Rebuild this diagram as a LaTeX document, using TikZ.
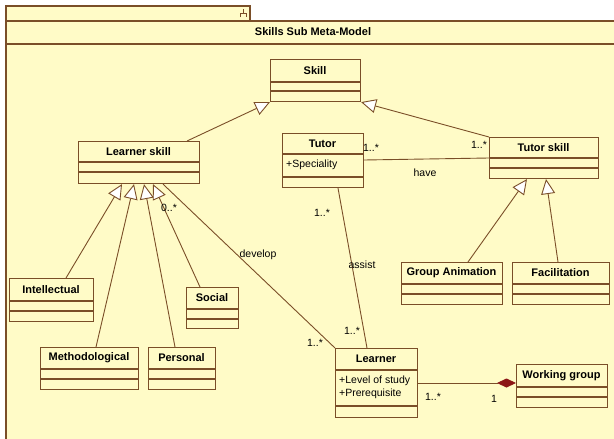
\documentclass[tikz,border=0pt]{standalone}
\usepackage{fontspec}
\setmainfont{Liberation Sans}
\usetikzlibrary{arrows.meta}

\definecolor{umlfill}{RGB}{255,251,199}
\definecolor{umlline}{RGB}{122,78,40}
\definecolor{umldiamond}{RGB}{140,22,22}

\tikzset{
  classbox/.style={draw=umlline, line width=1.1pt, fill=umlfill, inner sep=0pt, anchor=north west},
  classname/.style={font=\fontsize{11}{13}\selectfont\bfseries, text=black, inner sep=0pt},
  attr/.style={font=\fontsize{10.5}{12}\selectfont, anchor=west, inner sep=0pt},
  lbl/.style={font=\fontsize{10.5}{12}\selectfont, inner sep=0pt},
  sepline/.style={draw=umlline, line width=1.1pt},
  conn/.style={draw=umlline, line width=0.9pt},
  gen/.style={conn, -{Triangle[length=15pt,width=14pt,fill=white,color=umlline]}},
  comp/.style={conn, -{Diamond[length=19pt,width=9pt,fill=umldiamond,color=umldiamond]}},
}

% class box: name, x1, y1, x2, y2, header line y, section line y, title
\newcommand{\umlclass}[8]{%
  \node[classbox, minimum width={(#4-#2)*1pt}, minimum height={(#5-#3)*1pt}] (#1) at (#2,#3) {};
  \draw[sepline] (#2,#6) -- (#4,#6) (#2,#7) -- (#4,#7);
  \node[classname] (#1-name) at ({(#2+#4)/2},{(#3+#6)/2}) {#8};
}

\begin{document}
\begin{tikzpicture}[x=1pt,y=-1pt]
\clip (0,0) rectangle (614,439);
\fill[white] (0,0) rectangle (614,439);

% package frame
\draw[classbox] (6,6) rectangle (250,21);
\draw[classbox] (6,21) rectangle (624,470);
\draw[sepline] (6,44) -- (624,44);
\node[classname] (pkg) at (313,32) {Skills Sub Meta-Model};
% package icon in the tab
\draw[umlline, line width=0.8pt] (243,9) -- (243,13) (240,17) -- (240,13) -- (246,13) -- (246,17);

% classes
\umlclass{skill}{270}{59}{360}{101}{82}{91}{Skill}
\umlclass{ls}{78}{141}{199}{183}{162}{172}{Learner skill}
\umlclass{tutor}{282}{133}{363}{187}{154}{177}{Tutor}
\node[attr] (tutor-a1) at (286,165) {+Speciality};
\umlclass{ts}{489}{137}{598}{178}{158}{168}{Tutor skill}
\umlclass{intel}{9}{278}{93}{321}{301}{311}{Intellectual}
\umlclass{social}{186}{287}{238}{328}{309}{319}{Social}
\umlclass{meth}{40}{347}{138}{389}{369}{379}{Methodological}
\umlclass{pers}{148}{347}{215}{389}{369}{379}{Personal}
\umlclass{ga}{401}{262}{502}{304}{284}{294}{Group Animation}
\umlclass{fac}{512}{262}{609}{304}{284}{294}{Facilitation}
\umlclass{learner}{335}{348}{417}{417}{370}{406}{Learner}
\node[attr] (learner-a1) at (339,381) {+Level of study};
\node[attr] (learner-a2) at (339,394) {+Prerequisite};
\umlclass{wg}{516}{364}{607}{407}{387}{397}{Working group}

% generalizations
\draw[gen] ([xshift=109pt]ls.north west) -- (skill.south west);
\draw[gen] (ts.north west) -- (skill.south east);
\draw[gen] ([xshift=57pt]intel.north west) -- ([xshift=44pt]ls.south west);
\draw[gen] ([xshift=56pt]meth.north west) -- ([xshift=56pt]ls.south west);
\draw[gen] ([xshift=27pt]pers.north west) -- ([xshift=66pt]ls.south west);
\draw[gen] ([xshift=14pt]social.north west) -- ([xshift=75pt]ls.south west);
\draw[gen] ([xshift=67pt]ga.north west) -- ([xshift=38pt]ts.south west);
\draw[gen] ([xshift=46pt]fac.north west) -- ([xshift=57pt]ts.south west);

% associations
\draw[conn] ([yshift=-27pt]tutor.north east) -- ([yshift=-21pt]ts.north west);
\node[lbl] (have-m1) at (371,148) {1..*};
\node[lbl] (have-m2) at (479,145) {1..*};
\node[lbl] (have) at (425,173) {have};

\draw[conn] ([xshift=85pt]ls.south west) -- (learner.north west);
\node[lbl] (dev-m1) at (169,208) {0..*};
\node[lbl] (develop) at (258,255) {develop};
\node[lbl] (dev-m2) at (315,343) {1..*};

\draw[conn] ([xshift=56pt]tutor.south west) -- ([xshift=32pt]learner.north west);
\node[lbl] (assist-m1) at (322,213) {1..*};
\node[lbl] (assist) at (362,265) {assist};
\node[lbl] (assist-m2) at (352,331) {1..*};

% composition
\draw[comp] ([yshift=-35pt]learner.north east) -- ([yshift=-19pt]wg.north west);
\node[lbl] (comp-m1) at (433,397) {1..*};
\node[lbl] (comp-m2) at (494,399) {1};

\end{tikzpicture}
\end{document}
